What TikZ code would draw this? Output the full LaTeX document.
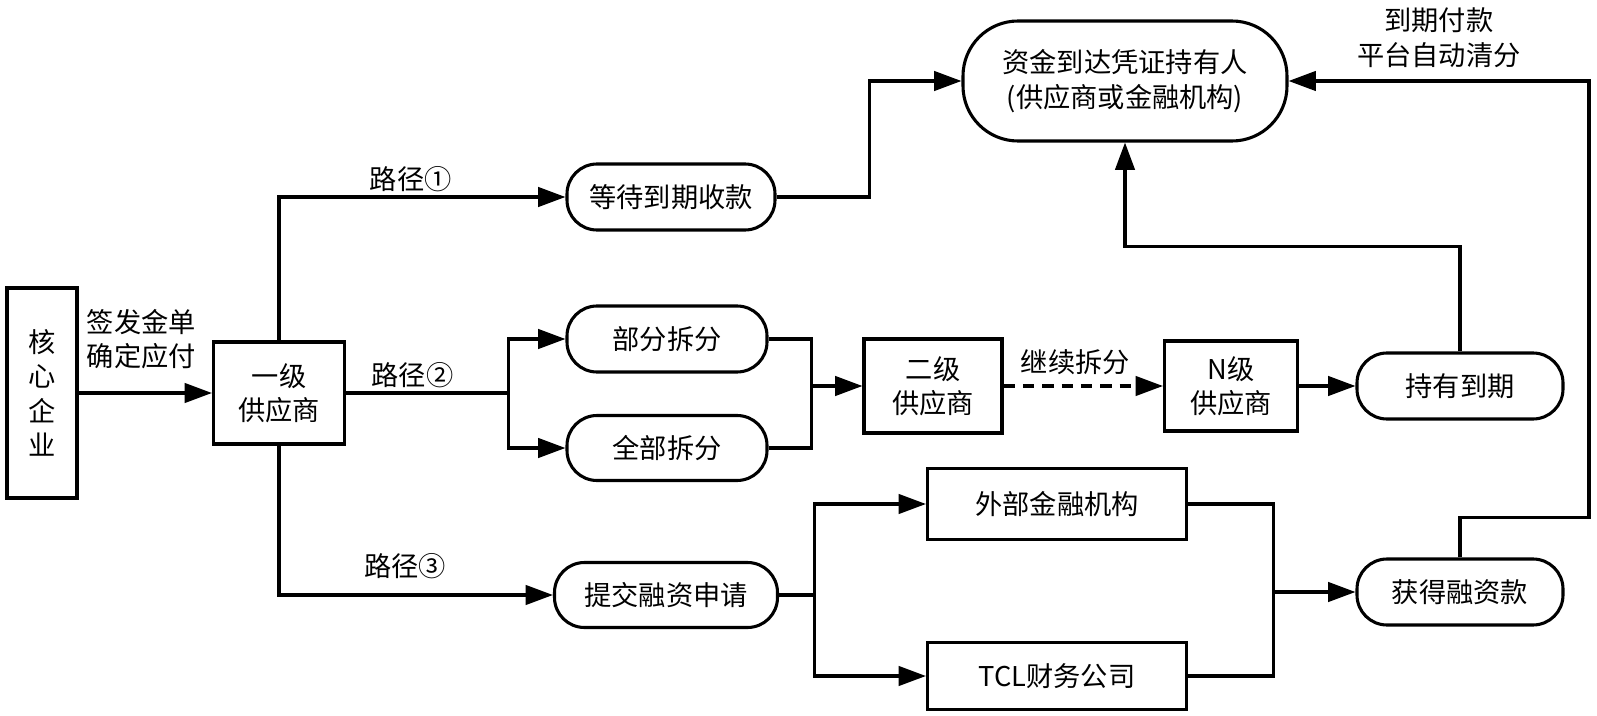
\documentclass[tikz,border=0pt]{standalone}
\usepackage{fontspec}
\setmainfont{Noto Sans CJK SC}
\usetikzlibrary{positioning,arrows.meta}

\begin{document}
\begin{tikzpicture}[-{Triangle[length=15.5pt,width=11pt]}, node distance =2cm and 3cm, on grid,
line width=1.75pt,
font=\fontsize{15.5pt}{19.5pt}\selectfont,
kuang/.style={rectangle, draw, align=center, inner sep=0pt},
yuan/.style={rectangle, rounded corners=0.6cm, draw, align=center, inner sep=0pt,
  minimum width=4cm, minimum height=1.32cm},
biao/.style={inner sep=2pt, align=center}
]
\useasboundingbox (0,0) rectangle (31.94,-14.32);

\node[kuang, minimum width=1.4cm, minimum height=4.2cm] (hexin) at (0.84,-7.86) {核\\心\\企\\业};
\node[kuang, minimum width=2.62cm, minimum height=2.04cm] (yiji) [right = 4.74cm of hexin] {一级\\供应商};
\node[yuan, minimum width=4.16cm] (dengdai) [above right = 3.92cm and 7.84cm of yiji] {等待到期收款};
\node[yuan] (bufen) [above right = 1.08cm and 7.76cm of yiji] {部分拆分};
\node[yuan, minimum height=1.3cm] (quanbu) [below right = 1.1cm and 7.76cm of yiji] {全部拆分};
\node[yuan, minimum width=4.46cm, minimum height=1.3cm] (tijiao) [below right = 4.04cm and 7.74cm of yiji] {提交融资申请};
\node[kuang, minimum width=2.76cm, minimum height=1.88cm] (erji) [above right = 0.14cm and 13.08cm of yiji] {二级\\供应商};
\node[kuang, minimum width=2.66cm, minimum height=1.8cm] (nji) [right = 5.96cm of erji] {N级\\供应商};
\node[yuan, minimum width=4.12cm] (chiyou) [right = 4.58cm of nji] {持有到期};
\node[yuan, minimum width=6.48cm, minimum height=2.4cm, rounded corners=1.1cm] (zijin) [above right = 6.1cm and 3.84cm of erji] {资金到达凭证持有人\\(供应商或金融机构)};
\node[kuang, minimum width=5.18cm, minimum height=1.42cm] (waibu) [above right = 1.82cm and 7.82cm of tijiao] {外部金融机构};
\node[kuang, minimum width=5.18cm, minimum height=1.34cm] (tcl) [below = 3.44cm of waibu] {TCL财务公司};
\node[yuan, minimum width=4.12cm] (huode) [below = 4.12cm of chiyou] {获得融资款};

\coordinate[right=3.24cm of yiji.east] (fen2);
\coordinate[left=1.02cm of erji.west] (he2);
\coordinate[right=0.7cm of tijiao.east] (fen3);
\coordinate[left=1.64cm of huode.west] (he3);

\draw (hexin) -- node[biao, above=0.38cm, pos=0.47] {签发金单\\确定应付} (yiji);
\draw (yiji.north) |- node[biao, pos=0.73, above] {路径①} (dengdai.west);
\draw[-] (yiji.east) -- node[biao, pos=0.41, above] {路径②} (fen2);
\draw (fen2) |- (bufen.west);
\draw (fen2) |- (quanbu.west);
\draw (yiji.south) |- node[biao, pos=0.73, above=0.22cm] {路径③} (tijiao.west);

\draw[-] (bufen.east) -| (he2);
\draw[-] (quanbu.east) -| (he2);
\draw (he2) -- (erji);
\draw[dash pattern=on 6.5pt off 4.5pt] (erji) -- node[biao, above=0.12cm, pos=0.45] {继续拆分} (nji);
\draw (nji) -- (chiyou);
\draw (chiyou.north) -- ++(0,2.1) -| (zijin.south);
\draw (dengdai.east) -- ++(1.86,0) |- (zijin.west);

\draw[-] (tijiao.east) -- (fen3);
\draw (fen3) |- (waibu.west);
\draw (fen3) |- (tcl.west);
\draw[-] (waibu.east) -| (he3);
\draw[-] (tcl.east) -| (he3);
\draw (he3) -- (huode);
\draw (huode.north) |- ++(2.58,0.8) |- node[biao, pos=0.75, above=0.17cm] {到期付款\\平台自动清分} (zijin.east);
\end{tikzpicture}
\end{document}
